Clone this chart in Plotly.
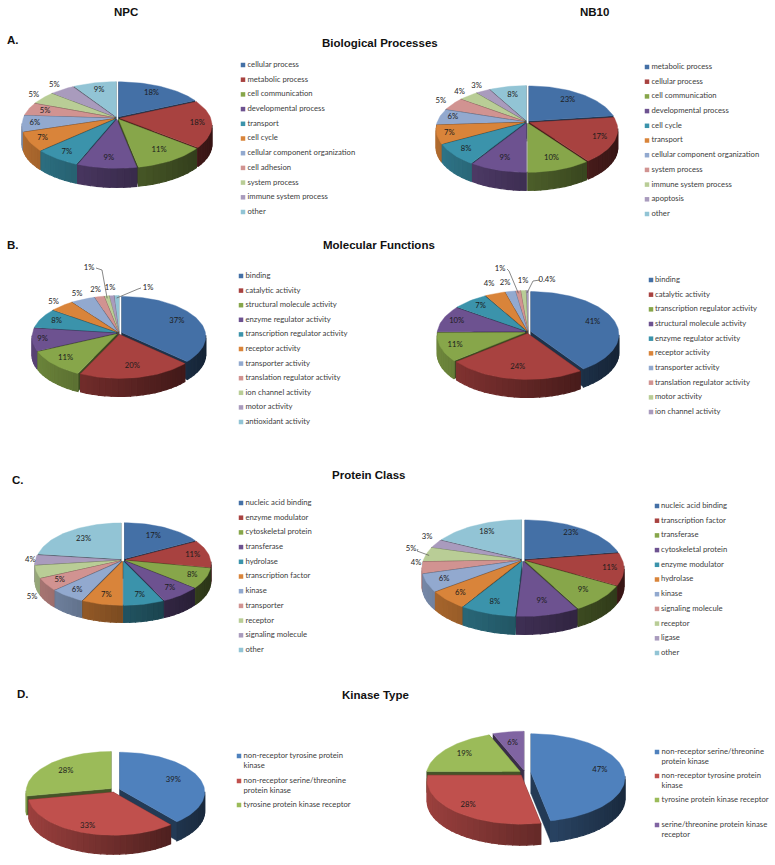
import math
import plotly.graph_objects as go

# ---------- data ----------
A_NPC_LABELS = ["cellular process", "metabolic process", "cell communication", "developmental process", "transport", "cell cycle", "cellular component organization", "cell adhesion", "system process", "immune system process", "other"]
A_NPC_VALUES = [18, 18, 11, 9, 7, 7, 6, 5, 5, 5, 9]
A_NB10_LABELS = ["metabolic process", "cellular process", "cell communication", "developmental process", "cell cycle", "transport", "cellular component organization", "system process", "immune system process", "apoptosis", "other"]
A_NB10_VALUES = [23, 17, 10, 9, 8, 7, 6, 5, 4, 3, 8]
B_NPC_LABELS = ["binding", "catalytic activity", "structural molecule activity", "enzyme regulator activity", "transcription regulator activity", "receptor activity", "transporter activity", "translation regulator activity", "ion channel activity", "motor activity", "antioxidant activity"]
B_NPC_VALUES = [37, 20, 11, 9, 8, 5, 5, 2, 1, 1, 1]
B_NB10_LABELS = ["binding", "catalytic activity", "transcription regulator activity", "structural molecule activity", "enzyme regulator activity", "receptor activity", "transporter activity", "translation regulator activity", "motor activity", "ion channel activity"]
B_NB10_VALUES = [41, 24, 11, 10, 7, 4, 2, 1, 1, 0.4]
C_NPC_LABELS = ["nucleic acid binding", "enzyme modulator", "cytoskeletal protein", "transferase", "hydrolase", "transcription factor", "kinase", "transporter", "receptor", "signaling molecule", "other"]
C_NPC_VALUES = [17, 11, 8, 7, 7, 7, 6, 5, 5, 4, 23]
C_NB10_LABELS = ["nucleic acid binding", "transcription factor", "transferase", "cytoskeletal protein", "enzyme modulator", "hydrolase", "kinase", "signaling molecule", "receptor", "ligase", "other"]
C_NB10_VALUES = [23, 11, 9, 9, 8, 6, 6, 4, 5, 3, 18]
D_NPC_LABELS = ["non-receptor tyrosine protein<br>kinase", "non-receptor serine/threonine<br>protein kinase", "tyrosine protein kinase receptor"]
D_NPC_VALUES = [39, 33, 28]
D_NB10_LABELS = ["non-receptor serine/threonine<br>protein kinase", "non-receptor tyrosine protein<br>kinase", "tyrosine protein kinase receptor", "serine/threonine protein kinase<br>receptor"]
D_NB10_VALUES = [47, 28, 19, 6]

# ---------- style ----------
PALETTE = ["#4470a6", "#a84240", "#87a64a", "#6d5290", "#3b93ab", "#d9843a", "#92a9cf", "#d19391", "#b9cd96", "#a99bbd", "#92c4d5"]
PALETTE_D = ["#4f81bd", "#c0504d", "#9bbb59", "#8064a2"]
FONT = "Lato"
TEXT = "#404040"
LABEL_TEXT = "#1c1c1c"


def pct(v):
    return f"{v:g}%"


PIES = [
    dict(values=A_NPC_VALUES, labels=A_NPC_LABELS, c=(117, 118), sh=7, r=(92, 42), d=19, e=3, pal=PALETTE,
         f=[.7, .88, .9, .95, .97, .94, .9, .8, 1.05, 1.03, .7],
         leg=(243, 247.5, 65, 14.7)),
    dict(values=A_NB10_VALUES, labels=A_NB10_LABELS, c=(527, 122), sh=7, r=(88, 42), d=18, e=3, pal=PALETTE,
         f=[.7, .9, .9, .9, .95, .92, .85, 1.1, 1.05, 1.02, .66],
         leg=(647, 651.5, 67, 14.7)),
    dict(values=B_NPC_VALUES, labels=B_NPC_LABELS, c=(119, 333), sh=4, r=(84, 40), d=18, e=3, pal=PALETTE,
         f=[.75, .85, .9, .92, .8, 1.1, 1.1, 1.12, .9, 1.12, .9],
         off={8: (-30, -65), 10: (29, -45)},
         lead={8: (-17, -63), 10: (19, -44)},
         leg=(241, 245.5, 276, 14.6)),
    dict(values=B_NB10_VALUES, labels=B_NB10_LABELS, c=(528, 332), sh=3, r=(88, 43), d=18, e=3, pal=PALETTE,
         f=[.77, .82, .88, .85, .8, 1.1, 1.1, 1.1, 1.1, 1.1],
         off={5: (-39, -48), 6: (-23, -49), 7: (-28, -63), 8: (-5, -51), 9: (19, -52)},
         lead={7: (-19, -61), 9: (5, -51)},
         leg=(651, 655, 280, 14.67)),
    dict(values=C_NPC_VALUES, labels=C_NPC_LABELS, c=(123, 560), sh=4, r=(85, 40), d=17, e=3, pal=PALETTE,
         f=[.7, .83, .9, .9, .9, .9, .92, .9, 1.1, 1.09, .7],
         off={8: (-91, 37)},
         leg=(241, 245.5, 503, 14.7)),
    dict(values=C_NB10_VALUES, labels=C_NB10_LABELS, c=(523, 560), sh=8, r=(98, 47), d=18, e=3, pal=PALETTE,
         f=[.75, .9, .88, .9, .95, .95, .9, 1.1, 1.1, 1.1, .7],
         off={7: (-107, 3), 8: (-112, -11), 9: (-96, -23)},
         lead={8: (-106, -9)},
         leg=(657, 661, 506, 14.7)),
    dict(values=D_NPC_VALUES, labels=D_NPC_LABELS, c=(115, 790), sh=3, r=(85, 40), d=19, e=5, pal=PALETTE_D,
         f=[.73, .95, .75],
         leg=(239, 243.5, [756, 781, 805], None)),
    dict(values=D_NB10_VALUES, labels=D_NB10_LABELS, c=(525, 773), sh=5, r=(94, 44), d=21, e=6, pal=PALETTE_D,
         f=[.8, .95, .78, .7],
         leg=(657, 661.5, [752, 776, 800, 825], None)),
]

HEADINGS = [
    ("NPC", 126, 12, 11.5), ("NB10", 594, 12, 11.5),
    ("Biological Processes", 380, 43, 11.5), ("Molecular Functions", 379, 245, 11.5),
    ("Protein Class", 369, 475, 11.5), ("Kinase Type", 375, 695, 11.5),
    ("A.", 13, 40, 11.5), ("B.", 13, 245, 11.5), ("C.", 18, 480, 11.5), ("D.", 23, 694, 11.5),
]


def shade(hex_color, k):
    r, g, b = (int(hex_color[i:i + 2], 16) for i in (1, 3, 5))
    return f"rgb({int(r * k)},{int(g * k)},{int(b * k)})"


def poly(xs, ys, color, lw=0.4):
    return go.Scatter(x=xs + xs[:1], y=ys + ys[:1], mode="lines", fill="toself", fillcolor=color,
                      line=dict(color=color, width=lw), hoverinfo="skip", showlegend=False)


fig = go.Figure()
texts_x, texts_y, texts = [], [], []

for pie in PIES:
    vals = pie["values"]
    total = sum(vals)
    cx, cy = pie["c"]
    rx, ry = pie["r"]
    depth, expl, sh = pie["d"], pie["e"], pie["sh"]
    spans, cum = [], 0.0
    for v in vals:
        spans.append((cum / total * 2 * math.pi, (cum + v) / total * 2 * math.pi))
        cum += v

    def pt(ox, oy, a, k=1.0):
        return ox + k * rx * math.sin(a), oy - k * ry * math.cos(a)

    def rim(ox, oy, a):
        # apex sits above the ellipse centre (perspective): ray from the apex to the rim
        q = sh / ry
        c = math.cos(a)
        s = -c * q + math.sqrt(c * c * q * q - q * q + 1)
        return pt(ox, oy, a, s)

    order = sorted(range(len(vals)), key=lambda i: math.cos((spans[i][0] + spans[i][1]) / 2), reverse=True)
    for i in order:
        a0, a1 = spans[i]
        mid = (a0 + a1) / 2
        col = pie["pal"][i]
        ox = cx + expl * math.sin(mid)
        oy = cy - expl * ry / rx * math.cos(mid)
        # radial cut faces
        for a in (a0, a1):
            px, py = rim(ox, oy, a)
            fig.add_trace(poly([ox, px, px, ox], [oy, py, py + depth, oy + depth], shade(col, 0.45)))
        # curved wall, shaded from left (light) to right (dark)
        n = max(2, int((a1 - a0) / math.radians(4)) + 1)
        for s in range(n):
            b0 = a0 + (a1 - a0) * s / n
            b1 = a0 + (a1 - a0) * (s + 1) / n
            p0, p1 = rim(ox, oy, b0), rim(ox, oy, b1)
            if (p0[1] + p1[1]) / 2 < oy + sh - 1:
                continue
            t = (math.sin((b0 + b1) / 2) + 1) / 2
            fig.add_trace(poly([p0[0], p1[0], p1[0], p0[0]], [p0[1], p1[1], p1[1] + depth, p0[1] + depth],
                               shade(col, 0.82 - 0.5 * t), lw=1.2))
        # top surface
        m = max(3, int((a1 - a0) / math.radians(2)))
        arc = [rim(ox, oy, a0 + (a1 - a0) * s / m) for s in range(m + 1)]
        fig.add_trace(poly([ox] + [p[0] for p in arc], [oy] + [p[1] for p in arc], col))

    # slice percentage labels and leader lines
    for i, v in enumerate(vals):
        a0, a1 = spans[i]
        mid = (a0 + a1) / 2
        if i in pie.get("off", {}):
            lx, ly = cx + pie["off"][i][0], cy + pie["off"][i][1]
        else:
            lx, ly = pt(cx, cy, mid, pie["f"][i])
        texts_x.append(lx)
        texts_y.append(ly)
        texts.append(pct(v))
        if i in pie.get("lead", {}):
            ex, ey = cx + pie["lead"][i][0], cy + pie["lead"][i][1]
            sx, sy = rim(cx, cy, mid)
            sign = 1 if ex > lx else -1
            fig.add_trace(go.Scatter(x=[lx + sign * 7, ex, sx], y=[ly, ey, sy + 1], mode="lines",
                                     line=dict(color="#555555", width=0.7), hoverinfo="skip", showlegend=False))

    # legend
    sq_x, tx_x, y0, step = pie["leg"]
    ys = y0 if isinstance(y0, list) else [y0 + step * k for k in range(len(vals))]
    fig.add_trace(go.Scatter(x=[sq_x] * len(vals), y=ys, mode="markers",
                             marker=dict(symbol="square", size=4.5, color=pie["pal"][:len(vals)]),
                             hoverinfo="skip", showlegend=False))
    fig.add_trace(go.Scatter(x=[tx_x] * len(vals),
                             y=[y + (5 if "<br>" in lab else 0) for y, lab in zip(ys, pie["labels"])],
                             mode="text", text=pie["labels"], textposition="middle right",
                             textfont=dict(family=FONT, size=7.7, color=TEXT),
                             hoverinfo="skip", showlegend=False, cliponaxis=False))

fig.add_trace(go.Scatter(x=texts_x, y=texts_y, mode="text", text=texts, textposition="middle center",
                         textfont=dict(family=FONT, size=7.7, color=LABEL_TEXT), hoverinfo="skip",
                         showlegend=False, cliponaxis=False))

annotations = [dict(x=x, y=y, text=f"<b>{t}</b>", showarrow=False, xref="x", yref="y",
                    font=dict(family="Liberation Sans", size=s, color="#111111"))
               for t, x, y, s in HEADINGS]

fig.update_layout(
    width=775, height=865, margin=dict(l=0, r=0, t=0, b=0),
    paper_bgcolor="white", plot_bgcolor="white", showlegend=False, annotations=annotations,
    xaxis=dict(range=[0, 775], visible=False, fixedrange=True),
    yaxis=dict(range=[865, 0], visible=False, fixedrange=True),
)
fig.write_html("out.html", config=dict(displayModeBar=False),
               post_script="document.body.style.margin='0';document.documentElement.style.overflow='hidden';")
